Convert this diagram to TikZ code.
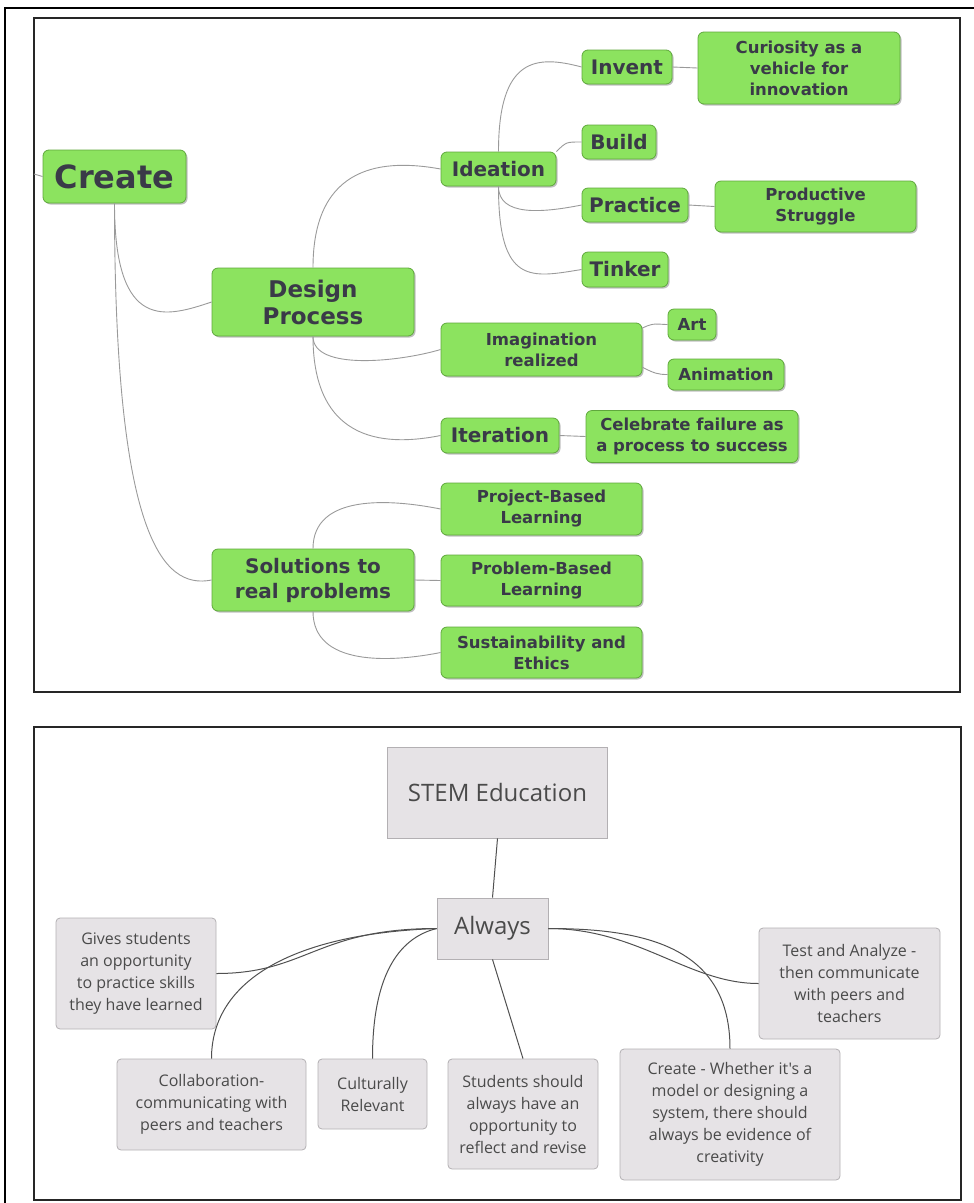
\documentclass[tikz,border=0pt]{standalone}
\usepackage{fontspec}
\usetikzlibrary{shadows}

\newfontfamily\mapfont{DejaVu Sans}
\newfontfamily\stemfont{Open Sans}
\newcommand\gf[2]{\mapfont\bfseries\fontsize{#1}{#2}\selectfont}
\newcommand\stf[2]{\stemfont\fontsize{#1}{#2}\selectfont}

\definecolor{mgreen}{HTML}{8CE35F}
\definecolor{mgreenline}{HTML}{5FA83C}
\definecolor{mtext}{HTML}{3A3A48}
\definecolor{mline}{HTML}{9A9A9A}
\definecolor{sgray}{HTML}{E6E3E6}
\definecolor{sgrayline}{HTML}{B3B0B3}
\definecolor{stext}{HTML}{4A4A4A}
\definecolor{sline}{HTML}{505050}

\begin{document}
\begin{tikzpicture}[x=1pt,y=-1pt,
  gbox/.style={draw=mgreenline, fill=mgreen, rounded corners=6pt, line width=0.8pt,
    text=mtext, align=center, inner sep=0pt,
    drop shadow={shadow xshift=1.5pt, shadow yshift=-1.5pt, fill=black!50, opacity=0.5}},
  gline/.style={draw=mline, line width=0.9pt},
  sbox/.style={draw=sgrayline, fill=sgray, rounded corners=4pt, line width=0.8pt,
    text=stext, align=center, inner sep=0pt, font={\stf{16}{22}}},
  sline/.style={draw=sline, line width=1pt},
  panel/.style={draw=black!85, line width=1.6pt}]

\useasboundingbox (0,0) rectangle (974,1203);

% Rahmen
\draw[line width=1.6pt] (5,1210) -- (5,8) -- (980,8);
\draw[panel] (34,18) rectangle (960,692);
\draw[panel] (34,727) rectangle (961,1200);

% Create
\node[gbox, minimum width=143pt, minimum height=53pt, font={\gf{32}{36}}] (create) at (114.5,176.5) {Create};
\node[gbox, minimum width=202pt, minimum height=68pt, font={\gf{23}{27}}] (design) at (313,302) {Design\\Process};
\node[gbox, minimum width=202pt, minimum height=62pt, font={\gf{20}{25}}] (solution) at (313,580) {Solutions to\\real problems};
\coordinate (stub) at (34,174);

% Design Process
\node[gbox, minimum width=115pt, minimum height=34pt, font={\gf{20}{24}}] (ideation) at (498.5,169) {Ideation};
\node[gbox, minimum width=201pt, minimum height=53pt, font={\gf{16.5}{21}}] (imagination) at (541.5,349.5) {Imagination\\realized};
\node[gbox, minimum width=118pt, minimum height=35pt, font={\gf{20}{24}}] (iteration) at (500,435.5) {Iteration};

% Ideation
\node[gbox, minimum width=90pt, minimum height=34pt, font={\gf{20}{24}}] (invent) at (627,67) {Invent};
\node[gbox, minimum width=74pt, minimum height=34pt, font={\gf{20}{24}}] (build) at (619,142) {Build};
\node[gbox, minimum width=106pt, minimum height=34pt, font={\gf{20}{24}}] (practice) at (635,205) {Practice};
\node[gbox, minimum width=86pt, minimum height=35pt, font={\gf{20}{24}}] (tinker) at (625,269.5) {Tinker};
\node[gbox, minimum width=202pt, minimum height=72pt, font={\gf{16.5}{21}}] (curiosity) at (799,68) {Curiosity as a\\vehicle for\\innovation};
\node[gbox, minimum width=201pt, minimum height=51pt, font={\gf{16.5}{21}}] (struggle) at (815.5,206.5) {Productive\\Struggle};

% Imagination, Iteration
\node[gbox, minimum width=48pt, minimum height=31pt, font={\gf{16.5}{21}}] (art) at (692,324.5) {Art};
\node[gbox, minimum width=116pt, minimum height=31pt, font={\gf{16.5}{21}}] (animation) at (726,374.5) {Animation};
\node[gbox, minimum width=212pt, minimum height=52pt, font={\gf{16.5}{21}}] (failure) at (692,436.5) {Celebrate failure as\\a process to success};

% Solutions
\node[gbox, minimum width=201pt, minimum height=52pt, font={\gf{16.5}{21}}] (project) at (541.5,509) {Project-Based\\Learning};
\node[gbox, minimum width=201pt, minimum height=51pt, font={\gf{16.5}{21}}] (problem) at (541.5,580.5) {Problem-Based\\Learning};
\node[gbox, minimum width=201pt, minimum height=51pt, font={\gf{16.5}{21}}] (ethics) at (541.5,652.5) {Sustainability and\\Ethics};

% Linien oben
\draw[gline] (create.west) -- (stub);
\draw[gline] (create.south) .. controls +(0,130) and +(-45,15) .. (design.west);
\draw[gline] (create.south) .. controls +(0,330) and +(-50,10) .. (solution.west);
\draw[gline] (design.north) .. controls +(0,-105) and +(-55,-10) .. (ideation.west);
\draw[gline] (design.south) .. controls +(0,35) and +(-40,12) .. (imagination.west);
\draw[gline] (design.south) .. controls +(0,110) and +(-50,10) .. (iteration.west);
\draw[gline] (ideation.north) .. controls +(0,-95) and +(-45,-12) .. (invent.west);
\draw[gline] (ideation.north east) .. controls +(10,-10) and +(-15,0) .. (build.west);
\draw[gline] (ideation.south) .. controls +(0,30) and +(-40,8) .. (practice.west);
\draw[gline] (ideation.south) .. controls +(0,100) and +(-50,8) .. (tinker.west);
\draw[gline] (invent.east) -- (curiosity.west);
\draw[gline] (practice.east) -- (struggle.west);
\draw[gline] (imagination.12) .. controls +(12,-6) and +(-10,0) .. (art.west);
\draw[gline] (imagination.-10) .. controls +(12,6) and +(-10,0) .. (animation.west);
\draw[gline] (iteration.east) -- (failure.west);
\draw[gline] (solution.north) .. controls +(0,-55) and +(-50,-10) .. (project.west);
\draw[gline] (solution.east) -- (problem.west);
\draw[gline] (solution.south) .. controls +(0,55) and +(-50,10) .. (ethics.west);

% STEM Education
\node[sbox, sharp corners, minimum width=220pt, minimum height=91pt, font={\stf{24}{28}}] (stem) at (497.5,792.5) {STEM Education};
\node[sbox, sharp corners, minimum width=111pt, minimum height=61pt, font={\stf{24}{28}}] (always) at (492.5,928.5) {Always};
\node[sbox, minimum width=160pt, minimum height=111pt] (gives) at (136,973.5) {Gives students\\an opportunity\\to practice skills\\they have learned};
\node[sbox, minimum width=181pt, minimum height=111pt] (test) at (849.5,983.5) {Test and Analyze -\\then communicate\\with peers and\\teachers};
\node[sbox, minimum width=189pt, minimum height=91pt] (collab) at (211.5,1104.5) {Collaboration-\\communicating with\\peers and teachers};
\node[sbox, minimum width=109pt, minimum height=70pt] (cultural) at (372.5,1094) {Culturally\\Relevant};
\node[sbox, minimum width=150pt, minimum height=110pt] (students) at (523,1114) {Students should\\always have an\\opportunity to\\reflect and revise};
\node[sbox, minimum width=220pt, minimum height=131pt] (createw) at (730,1114.5) {Create - Whether it's a\\model or designing a\\system, there should\\always be evidence of\\creativity};

% Linien unten
\draw[sline] (stem.south) -- (always.north);
\draw[sline] (always.west) .. controls +(-120,0) and +(90,0) .. (gives.east);
\draw[sline] (always.west) .. controls +(-140,5) and +(0,-80) .. (collab.north);
\draw[sline] (always.west) .. controls +(-40,10) and +(0,-80) .. (cultural.north);
\draw[sline] (always.south) -- (students.north);
\draw[sline] (always.east) .. controls +(90,0) and +(-70,0) .. (test.west);
\draw[sline] (always.east) .. controls +(100,0) and +(0,-100) .. (createw.north);

\end{tikzpicture}
\end{document}
